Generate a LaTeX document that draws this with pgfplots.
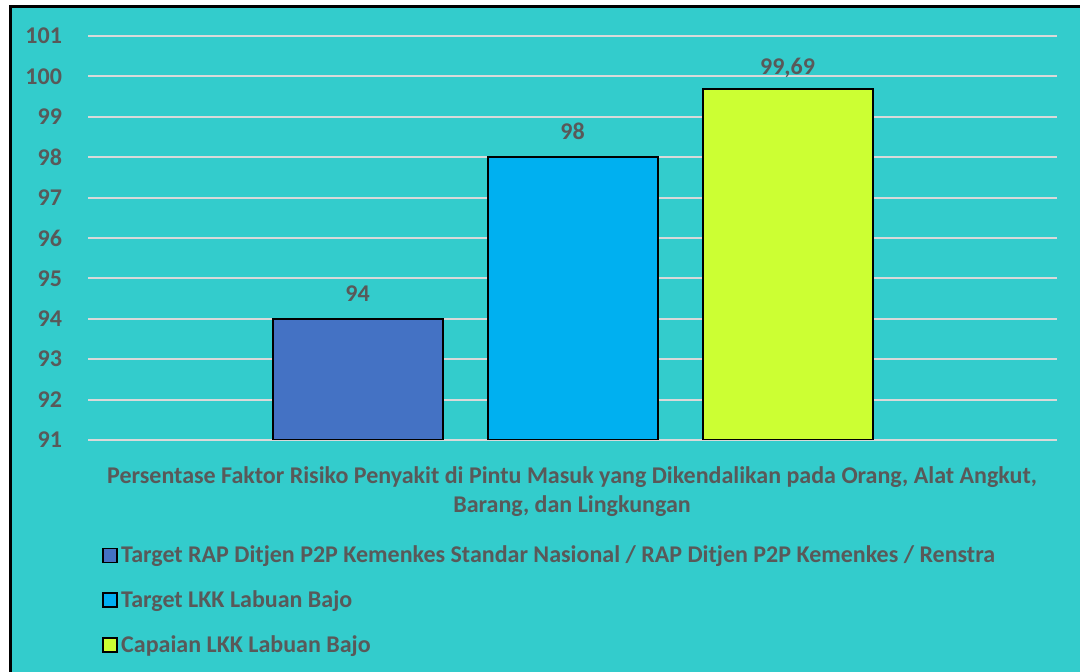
\documentclass[border=0pt]{standalone}
\usepackage{pgfplots}
\pgfplotsset{compat=1.18}
\usepackage{fontspec}
\setmainfont{Carlito}
\definecolor{bgteal}{HTML}{33CCCC}
\definecolor{cA}{HTML}{4472C4}
\definecolor{cB}{HTML}{00B0F0}
\definecolor{cC}{HTML}{CCFF33}
\definecolor{tgray}{HTML}{595959}
\definecolor{ggray}{HTML}{D9D9D9}
\begin{document}
\begin{tikzpicture}
\path[use as bounding box] (0pt,0pt) rectangle (540pt,336pt);
\fill[white] (0pt,0pt) rectangle (540pt,336pt);
\fill[bgteal] (5pt,0pt) rectangle (540pt,332.5pt);
\draw[black,line width=1.5pt] (5.25pt,0pt) -- (5.25pt,332.75pt) -- (540pt,332.75pt);
\begin{axis}[
  at={(44pt,116pt)}, anchor=south west,
  scale only axis, width=484.5pt, height=202pt,
  xmin=-2.2535, xmax=2.2535, ymin=91, ymax=101,
  ytick={91,...,101}, xtick=\empty,
  axis line style={draw=none},
  major tick length=0pt,
  ymajorgrids, grid style={draw=ggray, line width=1pt},
  /pgf/number format/assume math mode=true,
  yticklabel style={font=\bfseries\fontsize{12}{13}\selectfont, text=tgray, xshift=-9.5pt},
  ybar, bar width=0.7907, bar shift=0pt,
  nodes near coords={\pgfmathprintnumber[use comma,fixed,precision=2]{\pgfplotspointmeta}},
  nodes near coords style={font=\bfseries\fontsize{12}{13}\selectfont, text=tgray, anchor=south, yshift=5pt},
  legend cell align=left,
  legend image code/.code={\draw[#1,draw=black,line width=0.9pt] (0pt,-3.5pt) rectangle (7pt,3.5pt);},
  legend style={draw=none, fill=none, at={(0.0083,-0.243)}, anchor=north west,
    font=\bfseries\fontsize{12}{13}\selectfont, text=tgray, row sep=9.5pt,
    nodes={inner sep=1.5pt}},
]
\addplot[fill=cA, draw=black, line width=1pt] coordinates {(-1,94)};
\addplot[fill=cB, draw=black, line width=1pt] coordinates {(0,98)};
\addplot[fill=cC, draw=black, line width=1pt, nodes near coords style={yshift=-3.5pt}] coordinates {(1,99.69)};
\legend{Target RAP Ditjen P2P Kemenkes Standar Nasional / RAP Ditjen P2P Kemenkes / Renstra, Target LKK Labuan Bajo, Capaian LKK Labuan Bajo}
\end{axis}
\node[font=\bfseries\fontsize{12}{14.5}\selectfont, text=tgray, align=center, anchor=north]
  at (286pt,106pt) {Persentase Faktor Risiko Penyakit di Pintu Masuk yang Dikendalikan pada Orang, Alat Angkut,\\Barang, dan Lingkungan};
\end{tikzpicture}
\end{document}
